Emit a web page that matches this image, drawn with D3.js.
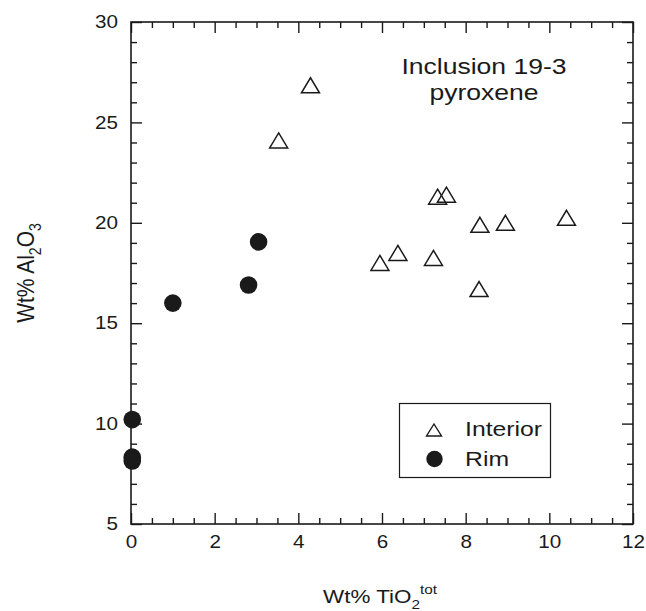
<!DOCTYPE html>
<html>
<head>
<meta charset="utf-8">
<script src="https://cdn.jsdelivr.net/npm/d3@7"></script>
<style>
  html, body { margin: 0; padding: 0; background: #fff; }
  text { font-family: "Liberation Sans", Arial, Helvetica, sans-serif; fill: #1a1a1a; }
</style>
</head>
<body>
<svg id="chart" width="646" height="611"></svg>
<script>
// Data
const interiorTiO2 = [4.29, 3.53, 7.33, 7.54, 8.34, 8.95, 10.41, 5.95, 6.38, 7.23, 8.32];
const interiorAl2O3 = [26.85, 24.1, 21.3, 21.4, 19.9, 20.0, 20.25, 18.0, 18.5, 18.25, 16.7];
const rimTiO2 = [3.05, 2.81, 1.0, 0.03, 0.03, 0.03];
const rimAl2O3 = [19.05, 16.9, 16.0, 10.2, 8.33, 8.14];
const xTicks = [0, 2, 4, 6, 8, 10, 12];
const yTicks = [5, 10, 15, 20, 25, 30];
const legendLabels = ["Interior", "Rim"];
const titleLines = ["Inclusion 19-3", "pyroxene"];

const SX = 1.18; // horizontal stretch of the lettering
const svg = d3.select("#chart");
const m = { left: 131, right: 633, top: 22, bottom: 524 };
const x = d3.scaleLinear().domain([0, 12]).range([m.left, m.right]);
const y = d3.scaleLinear().domain([5, 30]).range([m.bottom, m.top]);
const ink = "#1a1a1a";
const major = 11, minor = 6;

const xMinor = d3.range(0, 12.001, 0.5).filter(v => Math.abs(v % 2) > 1e-6);
const yMinor = d3.range(5, 30.001, 1).filter(v => Math.abs(v % 5) > 1e-6);

function styleAxis(g) {
  g.selectAll(".domain").remove();
  g.selectAll("line").attr("stroke", ink).attr("stroke-width", 1.4);
  g.selectAll("text").style("font-size", "17.5px").attr("fill", ink)
    .attr("transform", `scale(${SX},1)`);
}

// bottom
svg.append("g").attr("transform", `translate(0,${m.bottom})`)
  .call(d3.axisBottom(x).tickValues(xTicks).tickSize(-major).tickPadding(12).tickFormat(d3.format("d")))
  .call(styleAxis);
svg.append("g").attr("transform", `translate(0,${m.bottom})`)
  .call(d3.axisBottom(x).tickValues(xMinor).tickSize(-minor).tickFormat(""))
  .call(styleAxis);
// top
svg.append("g").attr("transform", `translate(0,${m.top})`)
  .call(d3.axisTop(x).tickValues(xTicks).tickSize(-major).tickFormat(""))
  .call(styleAxis);
svg.append("g").attr("transform", `translate(0,${m.top})`)
  .call(d3.axisTop(x).tickValues(xMinor).tickSize(-minor).tickFormat(""))
  .call(styleAxis);
// left
svg.append("g").attr("transform", `translate(${m.left},0)`)
  .call(d3.axisLeft(y).tickValues(yTicks).tickSize(-major).tickPadding(11).tickFormat(d3.format("d")))
  .call(styleAxis);
svg.append("g").attr("transform", `translate(${m.left},0)`)
  .call(d3.axisLeft(y).tickValues(yMinor).tickSize(-minor).tickFormat(""))
  .call(styleAxis);
// right
svg.append("g").attr("transform", `translate(${m.right},0)`)
  .call(d3.axisRight(y).tickValues(yTicks).tickSize(-major).tickFormat(""))
  .call(styleAxis);
svg.append("g").attr("transform", `translate(${m.right},0)`)
  .call(d3.axisRight(y).tickValues(yMinor).tickSize(-minor).tickFormat(""))
  .call(styleAxis);

// frame
svg.append("rect").attr("x", m.left).attr("y", m.top)
  .attr("width", m.right - m.left).attr("height", m.bottom - m.top)
  .attr("fill", "none").attr("stroke", ink).attr("stroke-width", 1.6);

function tri(w, h) {
  return `M0,${-h/2}L${w/2},${h/2}L${-w/2},${h/2}Z`;
}

// interior triangles
const interior = interiorTiO2.map((v, i) => ({ x: v, y: interiorAl2O3[i] }));
svg.append("g").selectAll("path").data(interior).enter().append("path")
  .attr("d", tri(18, 15))
  .attr("transform", d => `translate(${x(d.x)},${y(d.y)})`)
  .attr("fill", "none").attr("stroke", ink).attr("stroke-width", 1.5);

// rim circles
const rim = rimTiO2.map((v, i) => ({ x: v, y: rimAl2O3[i] }));
svg.append("g").selectAll("circle").data(rim).enter().append("circle")
  .attr("cx", d => x(d.x)).attr("cy", d => y(d.y)).attr("r", 8.8)
  .attr("fill", ink);

// stretched text helper
function stext(g, tx, ty, size, anchor) {
  return g.append("text").attr("transform", `translate(${tx},${ty}) scale(${SX},1)`)
    .attr("text-anchor", anchor).style("font-size", size + "px");
}

// title
titleLines.forEach((t, i) => stext(svg, 484, 74 + i * 26, 22.5, "middle").text(t));

// legend
const lg = svg.append("g");
lg.append("rect").attr("x", 399.5).attr("y", 403.5).attr("width", 151).attr("height", 74)
  .attr("fill", "#fff").attr("stroke", ink).attr("stroke-width", 1.2);
lg.append("path").attr("d", tri(15, 12)).attr("transform", "translate(434,430)")
  .attr("fill", "none").attr("stroke", ink).attr("stroke-width", 1.4);
lg.append("circle").attr("cx", 434.5).attr("cy", 459).attr("r", 8.2).attr("fill", ink);
legendLabels.forEach((t, i) => stext(lg, 465, 436 + i * 30, 21, "start").text(t));

// axis titles
const xt = stext(svg, 380, 603, 19, "middle");
xt.append("tspan").text("Wt% TiO");
xt.append("tspan").attr("dy", 6).style("font-size", "13px").text("2");
xt.append("tspan").attr("dy", -15).style("font-size", "13px").text("tot");

const yt = svg.append("text").attr("transform", `translate(34,273) rotate(-90) scale(1,${SX})`)
  .attr("text-anchor", "middle").style("font-size", "21px");
yt.append("tspan").text("Wt% Al");
yt.append("tspan").attr("dy", 6).style("font-size", "14px").text("2");
yt.append("tspan").attr("dy", -6).text("O");
yt.append("tspan").attr("dy", 6).style("font-size", "14px").text("3");
</script>
</body>
</html>
